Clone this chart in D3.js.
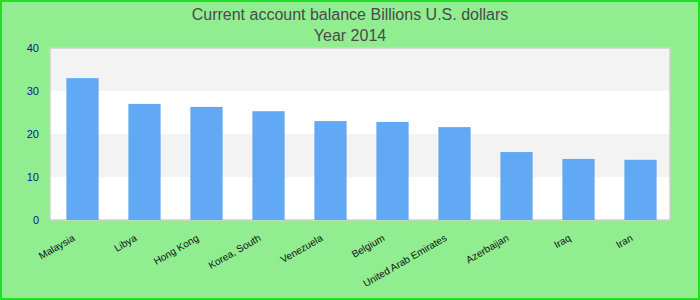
<!DOCTYPE html>
<html>
<head>
<meta charset="utf-8">
<script src="https://cdn.jsdelivr.net/npm/d3@7"></script>
<style>
  body { margin: 0; }
  svg { display: block; font-family: "Liberation Sans", Arial, sans-serif; }
</style>
</head>
<body>
<div id="chart"></div>
<script>
// chart data
var countries = ["Malaysia", "Libya", "Hong Kong", "Korea, South", "Venezuela",
  "Belgium", "United Arab Emirates", "Azerbaijan", "Iraq", "Iran"];
var balance = [33.0, 27.0, 26.3, 25.3, 23.0, 22.8, 21.6, 15.8, 14.2, 14.0];
var yTicks = [0, 10, 20, 30, 40];
var titleLines = ["Current account balance Billions U.S. dollars", "Year 2014"];

var svgWidth = 700;
var svgHeight = 300;
var margin = { top: 48, right: 30, bottom: 80, left: 50 };
var width = svgWidth - margin.left - margin.right;
var height = svgHeight - margin.top - margin.bottom;

var svg = d3.select("#chart")
  .append("svg")
  .attr("width", svgWidth)
  .attr("height", svgHeight);

// background + outer border
svg.append("rect")
  .attr("x", 1).attr("y", 1)
  .attr("width", svgWidth - 2).attr("height", svgHeight - 2)
  .attr("fill", "#90ee90")
  .attr("stroke", "#1de21d")
  .attr("stroke-width", 2);

// title
svg.selectAll(".title")
  .data(titleLines)
  .enter()
  .append("text")
  .attr("class", "title")
  .attr("x", svgWidth / 2)
  .attr("y", (d, i) => 20 + i * 21)
  .attr("text-anchor", "middle")
  .attr("font-size", "16px")
  .attr("fill", "#4a4a4a")
  .text(d => d);

var chartGroup = svg.append("g")
  .attr("transform", `translate(${margin.left}, ${margin.top})`);

var xScale = d3.scaleBand()
  .domain(countries)
  .range([1.5, width + 1.5])
  .paddingInner(0.48)
  .paddingOuter(0.24);

var yScale = d3.scaleLinear()
  .domain([0, 40])
  .range([height, 0]);

// plot area with alternating bands
chartGroup.append("rect")
  .attr("width", width)
  .attr("height", height)
  .attr("fill", "#ffffff");

chartGroup.selectAll(".band")
  .data(d3.pairs(yTicks).filter((p, i) => i % 2 === 1))
  .enter()
  .append("rect")
  .attr("class", "band")
  .attr("x", 0)
  .attr("y", d => yScale(d[1]))
  .attr("width", width)
  .attr("height", d => yScale(d[0]) - yScale(d[1]))
  .attr("fill", "#f3f3f3");

chartGroup.append("rect")
  .attr("width", width)
  .attr("height", height)
  .attr("fill", "none")
  .attr("stroke", "#d0d0d0")
  .attr("stroke-width", 1.5);

// bars
chartGroup.selectAll(".bar")
  .data(countries)
  .enter()
  .append("rect")
  .attr("class", "bar")
  .attr("x", d => xScale(d))
  .attr("y", (d, i) => yScale(balance[i]))
  .attr("width", xScale.bandwidth())
  .attr("height", (d, i) => height - yScale(balance[i]))
  .attr("fill", "#62a9f5");

// y axis
var leftAxis = d3.axisLeft(yScale).tickValues(yTicks).tickSize(0).tickPadding(11);
var yAxis = chartGroup.append("g").call(leftAxis);
yAxis.select(".domain").remove();
yAxis.selectAll("text")
  .attr("fill", "#10109a")
  .attr("font-size", "11px")
  .attr("font-family", "Liberation Sans, Arial, sans-serif");

// x axis labels, rotated
var bottomAxis = d3.axisBottom(xScale).tickSize(0).tickPadding(0);
var xAxis = chartGroup.append("g")
  .attr("transform", `translate(0, ${height})`)
  .call(bottomAxis);
xAxis.select(".domain").remove();
xAxis.selectAll("text")
  .attr("fill", "#111")
  .attr("font-size", "10px")
  .attr("font-family", "Liberation Sans, Arial, sans-serif")
  .attr("text-anchor", "end")
  .attr("dy", null)
  .attr("y", 0)
  .attr("transform", "translate(-7, 20) rotate(-30)");
</script>
</body>
</html>
